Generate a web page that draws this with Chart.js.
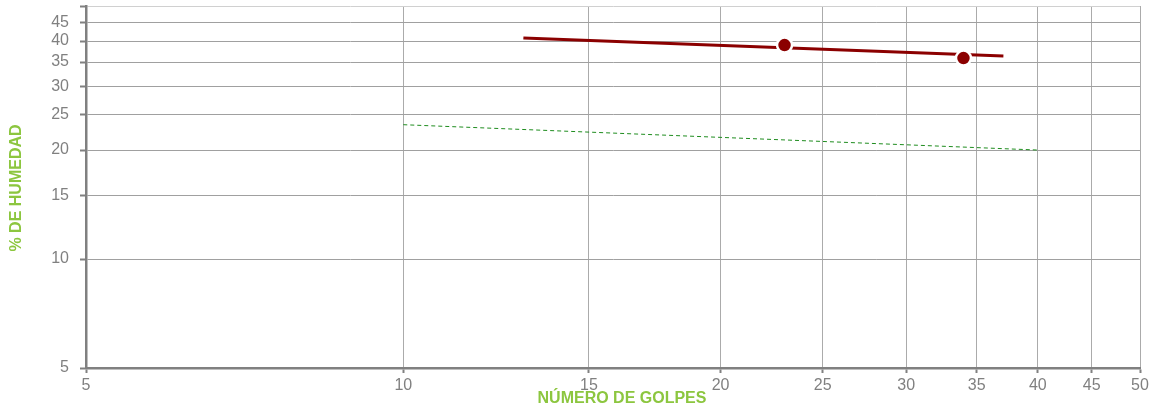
<!DOCTYPE html>
<html>
<head>
<meta charset="utf-8">
<script src="https://cdn.jsdelivr.net/npm/chart.js@4/dist/chart.umd.min.js"></script>
<style>
  html, body { margin:0; padding:0; background:#fff; }
  #wrap { width:1149px; height:410px; }
</style>
</head>
<body>
<div id="wrap"><canvas id="chart" width="1149" height="410"></canvas></div>
<script>
// --- data ---
const xTicks = [5, 10, 15, 20, 25, 30, 35, 40, 45, 50];
const yTicks = [5, 10, 15, 20, 25, 30, 35, 40, 45, 50];
const golpes   = [23, 34];          // puntos medidos
const humedad  = [39.0, 35.9];
const trendX   = [13.0, 37.1];      // linea de ajuste
const trendY   = [40.8, 36.4];
const refX     = [10, 40];          // linea discontinua verde
const refY     = [23.5, 20.0];
const xTitle = "NÚMERO DE GOLPES";
const yTitle = "% DE HUMEDAD";

const GRAY = "#808080";
const GREEN = "#8cc63f";
const toXY = (xs, ys) => xs.map((x, i) => ({x, y: ys[i]}));

// --- axis titles ---
const titles = {
  id: "titles",
  afterDraw(c) {
    const ctx = c.ctx;
    ctx.save();
    ctx.fillStyle = GREEN;
    ctx.font = "bold 16px 'Liberation Sans', Arial, sans-serif";
    ctx.textAlign = "center"; ctx.textBaseline = "middle";
    ctx.fillText(xTitle, 622, 399);
    ctx.translate(17, 188);
    ctx.rotate(-Math.PI / 2);
    ctx.fillText(yTitle, 0, 0);
    ctx.restore();
  }
};

const tickFont = { family: "'Liberation Sans', Arial, sans-serif", size: 16 };
const noPad = s => { s.paddingTop = 0; s.paddingBottom = 0; s.paddingLeft = 0; s.paddingRight = 0; };

new Chart(document.getElementById("chart").getContext("2d"), {
  type: "scatter",
  data: {
    datasets: [
      // first dataset is drawn on top
      { label: "puntos", data: toXY(golpes, humedad), pointRadius: 7.5, pointHoverRadius: 7.5,
        backgroundColor: "#8b0000", borderColor: "#ffffff", pointBorderWidth: 2.5 },
      { label: "trend", data: toXY(trendX, trendY), showLine: true, pointRadius: 0,
        borderColor: "#8b0000", borderWidth: 3 },
      { label: "ref", data: toXY(refX, refY), showLine: true, pointRadius: 0,
        borderColor: "#1e8c1e", borderWidth: 1, borderDash: [4, 3] }
    ]
  },
  options: {
    animation: false,
    responsive: false,
    layout: { autoPadding: false, padding: { left: 0, right: 9, top: 6, bottom: 0 } },
    plugins: { legend: { display: false }, tooltip: { enabled: false } },
    scales: {
      x: {
        type: "logarithmic", min: 5, max: 50,
        afterBuildTicks: s => { s.ticks = xTicks.map(v => ({ value: v })); },
        afterFit: s => { s.height = 42; noPad(s); },
        ticks: { color: GRAY, font: tickFont, padding: 3, maxRotation: 0, autoSkip: false,
                 callback: v => String(v) },
        grid: { color: "#ababab", lineWidth: 1, tickLength: 5, tickColor: GRAY, tickWidth: 2 },
        border: { color: GRAY, width: 2.5 }
      },
      y: {
        type: "logarithmic", min: 5, max: 50,
        afterBuildTicks: s => { s.ticks = yTicks.map(v => ({ value: v })); },
        afterFit: s => { s.width = 86; noPad(s); },
        ticks: { color: GRAY, font: tickFont, padding: 11, autoSkip: false,
                 callback: v => (v === 50 ? "" : String(v)) },
        grid: { color: c => (c.tick && c.tick.value === 50 ? "#d0d0d0" : "#a0a0a0"),
                lineWidth: 1, tickLength: 6, tickColor: GRAY, tickWidth: 2 },
        border: { color: GRAY, width: 2.5 }
      }
    }
  },
  plugins: [titles]
});
</script>
</body>
</html>
